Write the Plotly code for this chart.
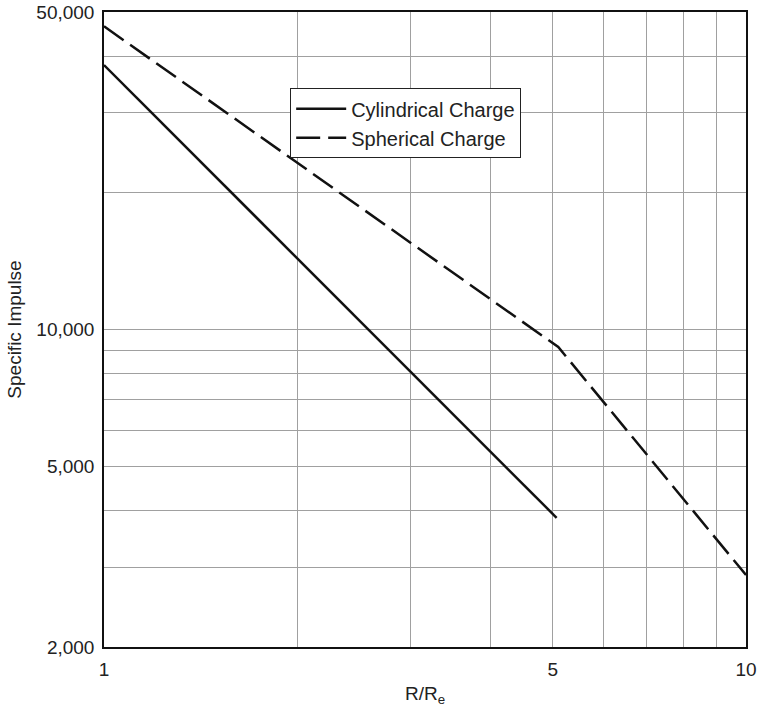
import plotly.graph_objects as go

# Data
cyl_x = [1.0, 5.07]
cyl_y = [38200, 3850]
sph_x = [1.0, 5.1, 10.0]
sph_y = [46500, 9150, 2880]

x_tickvals = [1, 2, 3, 4, 5, 6, 7, 8, 9, 10]
x_ticktext = ["1", "", "", "", "5", "", "", "", "", "10"]
y_tickvals = [2000, 3000, 4000, 5000, 6000, 7000, 8000, 9000, 10000, 20000, 30000, 40000, 50000]
y_ticktext = ["2,000", "", "", "5,000", "", "", "", "", "10,000", "", "", "", "50,000"]

font_family = "Liberation Sans, Arial, sans-serif"

fig = go.Figure()
fig.add_trace(go.Scatter(x=cyl_x, y=cyl_y, mode="lines", name="Cylindrical Charge",
                         legendgroup="a",
                         line=dict(color="#111", width=2.5)))
fig.add_trace(go.Scatter(x=sph_x, y=sph_y, mode="lines", name="Spherical Charge",
                         legendgroup="b",
                         line=dict(color="#111", width=2.5, dash="24px,8px")))

fig.update_layout(
    width=758, height=713,
    margin=dict(l=104, r=12, t=12, b=66),
    paper_bgcolor="white", plot_bgcolor="white",
    font=dict(family=font_family, size=19, color="#222"),
    showlegend=True,
    legend=dict(x=0.29, y=0.88, xanchor="left", yanchor="top",
                bordercolor="#222", borderwidth=1, bgcolor="white",
                font=dict(size=20), traceorder="grouped", tracegroupgap=0,
                itemwidth=50),
)
fig.update_xaxes(type="log", range=[0, 1], tickvals=x_tickvals, ticktext=x_ticktext,
                 showgrid=True, gridcolor="#a0a0a0", gridwidth=1,
                 showline=True, linecolor="#111", linewidth=1.5, mirror=True,
                 ticks="", zeroline=False, automargin=False, ticklabelstandoff=4,
                 title=dict(text="R/R<sub>e</sub>", font=dict(size=19), standoff=8))
fig.update_yaxes(type="log", range=[3.30103, 4.69897], tickvals=y_tickvals, ticktext=y_ticktext,
                 showgrid=True, gridcolor="#a0a0a0", gridwidth=1,
                 showline=True, linecolor="#111", linewidth=1.5, mirror=True,
                 ticks="", zeroline=False, automargin=False, ticklabelstandoff=4,
                 title=dict(text="Specific Impulse", font=dict(size=19), standoff=10))

fig.write_html("out.html", config={"displayModeBar": False},
               post_script="document.body.style.margin='0';")
